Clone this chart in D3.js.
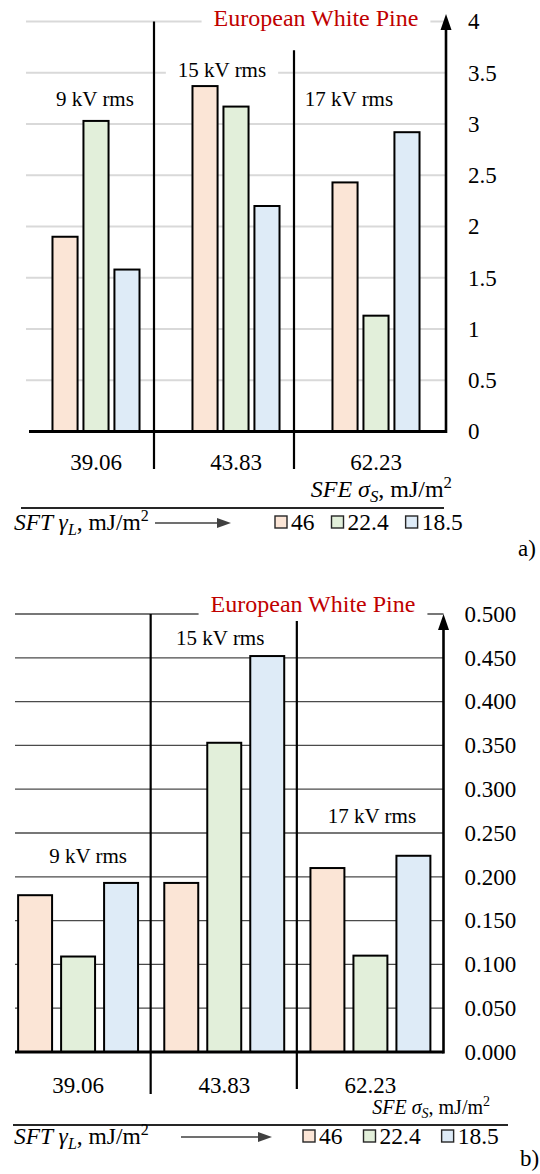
<!DOCTYPE html>
<html>
<head>
<meta charset="utf-8">
<script src="https://cdn.jsdelivr.net/npm/d3@7"></script>
<style>
  html, body { margin: 0; padding: 0; background: #fff; }
  svg { display: block; font-family: "Liberation Serif", "Times New Roman", "DejaVu Serif", serif; }
</style>
</head>
<body>
<svg id="chart" width="540" height="1174"></svg>
<script>
// ---------- DATA ----------
const categories = ["39.06", "43.83", "62.23"];          // SFE σS, mJ/m²
const seriesNames = ["46", "22.4", "18.5"];               // SFT γL, mJ/m²
const voltageLabels = ["9 kV rms", "15 kV rms", "17 kV rms"];
const titleText = "European White Pine";

// panel a)
const panelA_46   = [1.90, 3.37, 2.43];
const panelA_224  = [3.03, 3.17, 1.13];
const panelA_185  = [1.58, 2.20, 2.92];
const panelA_ticks = [0, 0.5, 1, 1.5, 2, 2.5, 3, 3.5, 4];
const panelA_tickLabels = ["0", "0.5", "1", "1.5", "2", "2.5", "3", "3.5", "4"];

// panel b)
const panelB_46   = [0.179, 0.193, 0.210];
const panelB_224  = [0.109, 0.353, 0.110];
const panelB_185  = [0.193, 0.452, 0.224];
const panelB_ticks = [0, 0.05, 0.1, 0.15, 0.2, 0.25, 0.3, 0.35, 0.4, 0.45, 0.5];
const panelB_tickLabels = ["0.000", "0.050", "0.100", "0.150", "0.200", "0.250", "0.300", "0.350", "0.400", "0.450", "0.500"];

const seriesColors = ["#fbe5d6", "#e2efda", "#deebf7"];

// ---------- DRAW ----------
const svg = d3.select("#chart");
const FONT = '"Liberation Serif", "Times New Roman", "DejaVu Serif", serif';

function drawPanel(cfg) {
  const g = svg.append("g").attr("font-family", FONT);
  const values = [cfg.s46, cfg.s224, cfg.s185];
  const x = d3.scaleBand().domain(categories).range(cfg.xRange).paddingInner(0).paddingOuter(0);
  const xs = d3.scaleBand().domain(seriesNames).range([0, x.bandwidth()])
    .paddingInner(cfg.innerPad).paddingOuter(cfg.outerPad);
  const y = d3.scaleLinear().domain(cfg.yDomain).range(cfg.yRange);
  const axisX = cfg.xRange[1];

  // gridlines
  g.append("g").selectAll("line").data(cfg.ticks.filter(d => d > 0)).join("line")
    .attr("x1", cfg.gridStart).attr("x2", axisX)
    .attr("y1", d => y(d)).attr("y2", d => y(d))
    .attr("stroke", cfg.gridColor).attr("stroke-width", cfg.gridWidth);

  // voltage labels (with white background)
  const vl = g.append("g");
  voltageLabels.forEach((t, i) => {
    const cx = x(categories[i]) + x.bandwidth() / 2 + cfg.vlDx[i];
    const by = y(cfg.vlY[i]);
    const txt = vl.append("text").attr("x", cx).attr("y", by)
      .attr("text-anchor", "middle").attr("font-size", cfg.vlSize).attr("fill", "#000").text(t);
    const bb = txt.node().getBBox();
    vl.insert("rect", "text").attr("x", bb.x - 12).attr("y", bb.y + 2).attr("width", bb.width + 24)
      .attr("height", bb.height - 4).attr("fill", "#fff");
  });

  // separators
  g.append("g").selectAll("line").data(categories.slice(1)).join("line")
    .attr("x1", d => x(d) + cfg.sepOffset).attr("x2", d => x(d) + cfg.sepOffset)
    .attr("y1", (d, i) => y(cfg.sepTop[i])).attr("y2", (d, i) => cfg.sepBottom[i])
    .attr("stroke", "#000").attr("stroke-width", 2.2);

  // bars
  seriesNames.forEach((s, si) => {
    g.append("g").selectAll("rect").data(values[si]).join("rect")
      .attr("x", (d, i) => x(categories[i]) + xs(s))
      .attr("y", d => y(d))
      .attr("width", xs.bandwidth())
      .attr("height", d => y(0) - y(d))
      .attr("fill", seriesColors[si])
      .attr("stroke", "#000").attr("stroke-width", cfg.barStroke);
  });

  // baseline
  g.append("line").attr("x1", cfg.baseStart).attr("x2", axisX)
    .attr("y1", y(0)).attr("y2", y(0)).attr("stroke", "#000").attr("stroke-width", 3);

  // title with white background
  const tt = g.append("text").attr("x", cfg.titleX).attr("y", cfg.titleY)
    .attr("text-anchor", "middle").attr("font-size", 24).attr("fill", "#c00000").text(titleText);
  const tb = tt.node().getBBox();
  g.insert("rect", () => tt.node()).attr("x", tb.x - 12).attr("y", tb.y).attr("width", tb.width + 24)
    .attr("height", tb.height).attr("fill", "#fff");

  // vertical axis with arrow
  g.append("line").attr("x1", axisX).attr("x2", axisX).attr("y1", y(0) + 1.5).attr("y2", cfg.arrowTip + 12)
    .attr("stroke", "#000").attr("stroke-width", 2.6);
  g.append("path")
    .attr("d", `M${axisX},${cfg.arrowTip} L${axisX - 5.5},${cfg.arrowTip + 16} L${axisX + 5.5},${cfg.arrowTip + 16} Z`)
    .attr("fill", "#000");

  // tick labels via d3 axis
  const yAxis = d3.axisRight(y).tickValues(cfg.ticks)
    .tickFormat((d, i) => cfg.tickLabels[i]).tickSize(0).tickPadding(cfg.tickPad);
  const ag = g.append("g").attr("transform", `translate(${axisX},0)`).call(yAxis);
  ag.attr("font-family", FONT);
  ag.select(".domain").remove();
  ag.selectAll("text").attr("font-family", FONT).attr("font-size", 23).attr("fill", "#000");

  // category labels
  g.append("g").selectAll("text").data(categories).join("text")
    .attr("x", d => x(d) + x.bandwidth() / 2).attr("y", cfg.catY)
    .attr("text-anchor", "middle").attr("font-size", 23).attr("fill", "#000").text(d => d);

  // SFE axis title
  const sfe = g.append("text").attr("x", cfg.sfeX).attr("y", cfg.sfeY).attr("text-anchor", "end")
    .attr("font-size", cfg.sfeSize).attr("fill", "#000");
  sfe.append("tspan").attr("font-style", "italic").text("SFE σ");
  sfe.append("tspan").attr("font-style", "italic").attr("font-size", cfg.sfeSize * 0.7).attr("dy", cfg.sfeSize * 0.22).text("S");
  sfe.append("tspan").attr("dy", -cfg.sfeSize * 0.22).text(", mJ/m");
  sfe.append("tspan").attr("font-size", cfg.sfeSize * 0.7).attr("dy", -cfg.sfeSize * 0.38).text("2");

  // horizontal rule
  g.append("line").attr("x1", cfg.ruleX[0]).attr("x2", cfg.ruleX[1])
    .attr("y1", cfg.ruleY).attr("y2", cfg.ruleY).attr("stroke", "#262626").attr("stroke-width", 2);

  // SFT legend title
  const sft = g.append("text").attr("x", 14).attr("y", cfg.legY).attr("font-size", 23.5).attr("fill", "#000");
  sft.append("tspan").attr("font-style", "italic").text("SFT γ");
  sft.append("tspan").attr("font-style", "italic").attr("font-size", 16).attr("dy", 5).text("L");
  sft.append("tspan").attr("dy", -5).text(", mJ/m");
  sft.append("tspan").attr("font-size", 16).attr("dy", -9).text("2");

  // arrow
  g.append("line").attr("x1", cfg.legArrow[0]).attr("x2", cfg.legArrow[1] - 10)
    .attr("y1", cfg.legY - 7).attr("y2", cfg.legY - 7).attr("stroke", "#404040").attr("stroke-width", 1.3);
  g.append("path").attr("d", `M${cfg.legArrow[1]},${cfg.legY - 7} L${cfg.legArrow[1] - 14},${cfg.legY - 12} L${cfg.legArrow[1] - 14},${cfg.legY - 2} Z`)
    .attr("fill", "#404040");

  // legend items
  let lx = cfg.legStart;
  seriesNames.forEach((s, si) => {
    g.append("rect").attr("x", lx).attr("y", cfg.legY - 14).attr("width", 12).attr("height", 12)
      .attr("fill", seriesColors[si]).attr("stroke", "#262626").attr("stroke-width", 1.4);
    const t = g.append("text").attr("x", lx + 16).attr("y", cfg.legY).attr("font-size", 23.5).attr("fill", "#000").text(s);
    lx += 16 + t.node().getComputedTextLength() + cfg.legGap;
  });

  // panel letter
  g.append("text").attr("x", cfg.letterX).attr("y", cfg.letterY).attr("font-size", 23).attr("fill", "#000").text(cfg.letter);
}

drawPanel({
  s46: panelA_46, s224: panelA_224, s185: panelA_185,
  ticks: panelA_ticks, tickLabels: panelA_tickLabels,
  xRange: [26, 446], innerPad: 0.19, outerPad: 0.855,
  yDomain: [0, 4], yRange: [431.5, 21.5],
  gridStart: 26, gridColor: "#d9d9d9", gridWidth: 2,
  sepOffset: -12, sepTop: [4, 3.72], sepBottom: [469, 469],
  vlDx: [-1, -14, -27], vlY: [3.18, 3.46, 3.18], vlSize: 21,
  barStroke: 2,
  baseStart: 29,
  titleX: 316, titleY: 26,
  arrowTip: 14,
  tickPad: 22,
  catY: 470,
  sfeX: 452, sfeY: 497, sfeSize: 24,
  ruleX: [21, 444], ruleY: 508,
  legY: 530, legArrow: [155, 231], legStart: 275, legGap: 17,
  letter: "a)", letterX: 518, letterY: 556
});

drawPanel({
  s46: panelB_46, s224: panelB_224, s185: panelB_185,
  ticks: panelB_ticks, tickLabels: panelB_tickLabels,
  xRange: [5, 443.5], innerPad: 0.21, outerPad: 0.305,
  yDomain: [0, 0.5], yRange: [1052, 614],
  gridStart: 15, gridColor: "#4a4a4a", gridWidth: 1.3,
  sepOffset: -0.5, sepTop: [0.5, 0.492], sepBottom: [1094, 1089],
  vlDx: [10, -4, 1.5], vlY: [0.216, 0.465, 0.261], vlSize: 21,
  barStroke: 2,
  baseStart: 15,
  titleX: 313, titleY: 612,
  arrowTip: 614,
  tickPad: 21,
  catY: 1093,
  sfeX: 490, sfeY: 1114, sfeSize: 20,
  ruleX: [13, 508], ruleY: 1125,
  legY: 1144, legArrow: [181, 272], legStart: 303, legGap: 21,
  letter: "b)", letterX: 520, letterY: 1166
});
</script>
</body>
</html>
